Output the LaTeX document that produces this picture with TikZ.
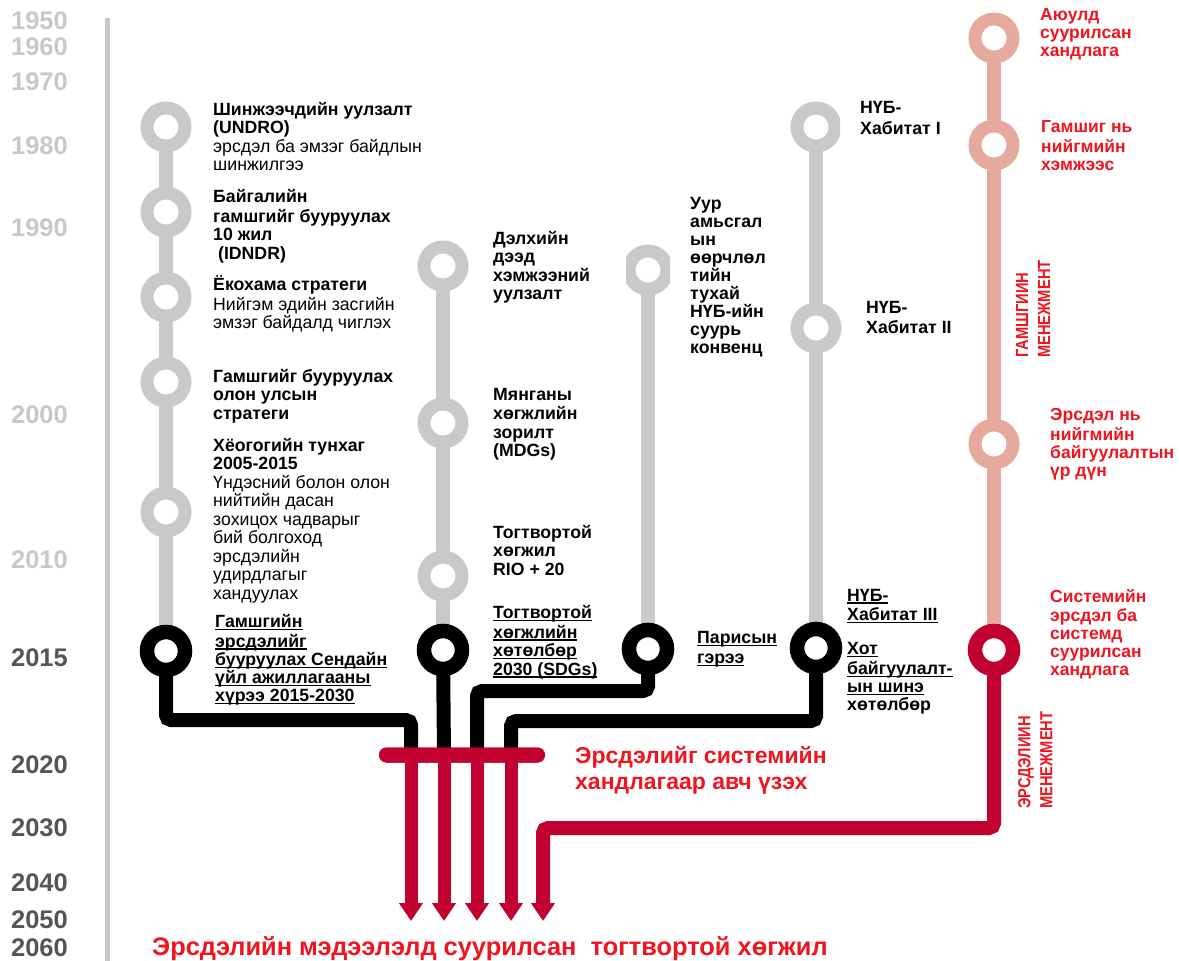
\documentclass[tikz,border=0pt]{standalone}
\usepackage{fontspec}
\setmainfont{Liberation Sans}
\usetikzlibrary{arrows.meta}
\definecolor{ringgray}{HTML}{C8C9CB}
\definecolor{pinkc}{HTML}{E5A99E}
\definecolor{crim}{HTML}{C10230}
\definecolor{redt}{HTML}{F0141E}
\definecolor{yearl}{HTML}{C8C8C8}
\definecolor{yeard}{HTML}{555555}
\newcommand\myul[1]{\setbox0\hbox{#1}\rlap{\rule[-2.6pt]{\wd0}{1.3pt}}\box0}
\newcommand\nar[1]{\scalebox{0.84}[1]{#1}}
\pgfdeclarelayer{back}
\pgfdeclarelayer{bg}
\pgfsetlayers{back,bg,main}
\begin{document}
\begin{tikzpicture}[x=1pt,y=-1pt,
  ring/.style={circle, draw=ringgray, fill=white, line width=13pt, minimum size=38pt, inner sep=0pt},
  ringk/.style={ring, draw=black, line width=14.5pt},
  ringp/.style={ring, draw=pinkc},
  ringc/.style={ring, draw=crim, line width=14.5pt},
  gstem/.style={draw=ringgray, line width=14pt},
  pstem/.style={draw=pinkc, line width=14pt},
  kpipe/.style={draw=black, line width=14pt, rounded corners=5pt},
  tip/.style={-{Triangle[width=23pt,length=18pt]}},
  rpipe/.style={draw=crim, line width=14pt, rounded corners=5pt, tip},
  rarrow/.style={draw=crim, line width=13pt, tip},
  lab/.style={anchor=north west, inner sep=0pt, align=left, font=\fontsize{17.7}{18.5}\selectfont},
  blab/.style={lab, font=\fontsize{17.7}{18.5}\selectfont\bfseries},
  rlab/.style={lab, text=redt, font=\fontsize{17.5}{18}\selectfont\bfseries},
  year/.style={anchor=base east, inner sep=0pt, font=\fontsize{25.5}{26}\selectfont\bfseries},
  vlab/.style={rotate=90, anchor=north west, inner sep=0pt, align=left, text=redt, font=\fontsize{17.5}{22}\selectfont\bfseries},
  barshape/.style={rectangle, fill=crim, minimum width=166pt, minimum height=15pt, rounded corners=7.5pt, inner sep=0pt}
]
\begin{pgfonlayer}{back}
\fill[white] (0,0) rectangle (1179,961);
\end{pgfonlayer}
\useasboundingbox (0,0) rectangle (1179,961);

% time axis
\coordinate (axtop) at (107,18);
\coordinate (axbot) at (107,961);
\draw[ringgray, line width=5pt] (axtop) -- (axbot);

% years
\node[year, text=yearl] (y1950) at (68,30) {1950};
\node[year, text=yearl] (y1960) at (68,56) {1960};
\node[year, text=yearl] (y1970) at (68,90) {1970};
\node[year, text=yearl] (y1980) at (68,154) {1980};
\node[year, text=yearl] (y1990) at (68,236) {1990};
\node[year, text=yearl] (y2000) at (68,423) {2000};
\node[year, text=yearl] (y2010) at (68,568) {2010};
\node[year, text=yeard] (y2015) at (68,666) {2015};
\node[year, text=yeard] (y2020) at (68,773) {2020};
\node[year, text=yeard] (y2030) at (68,836) {2030};
\node[year, text=yeard] (y2040) at (68,891) {2040};
\node[year, text=yeard] (y2050) at (68,928) {2050};
\node[year, text=yeard] (y2060) at (68,956) {2060};

% column 1
\node[ring] (c1a) at (166,127) {};
\node[ring] (c1b) at (166,212) {};
\node[ring] (c1c) at (166,297) {};
\node[ring] (c1d) at (166,382) {};
\node[ring] (c1e) at (166,512) {};
\node[ringk] (c1k) at (166,651) {};
% column 2
\node[ring] (c2a) at (443,266) {};
\node[ring] (c2b) at (443,423) {};
\node[ring] (c2c) at (443,576) {};
\node[ringk] (c2k) at (443,650) {};
% column 3
\begin{scope}
\clip (626,240) rectangle (670,300);
\node[ring] (c3a) at (648,270) {};
\end{scope}
\node[ringk] (c3k) at (648,649) {};
% column 4
\begin{scope}
\clip (780,95) rectangle (840,160);
\node[ring] (c4a) at (816,127) {};
\end{scope}
\node[ring] (c4b) at (816,328) {};
\node[ringk] (c4k) at (816,648) {};
% column 5
\node[ringp] (c5a) at (994,38) {};
\node[ringp] (c5b) at (994,145) {};
\node[ringp] (c5c) at (994,444) {};
\node[ringc] (c5k) at (994,650) {};

% bar and pipe end points
\node[barshape] (bar) at (462,755) {};
\coordinate (b1) at (411,755);
\coordinate (b2) at (444,755);
\coordinate (b3) at (477,755);
\coordinate (b4) at (511,755);
\coordinate (j1) at (411,720);
\coordinate (j3) at (477,691);
\coordinate (j4) at (511,721);
\coordinate (j5) at (543,828);
\coordinate (e1) at (411,921);
\coordinate (e2) at (444,921);
\coordinate (e3) at (477,921);
\coordinate (e4) at (511,921);
\coordinate (e5) at (543,921);

\begin{pgfonlayer}{bg}
\draw[gstem] (c1a.center) -- (c1k.center);
\draw[gstem] (c2a.center) -- (c2k.center);
\draw[gstem] (c3a.center) -- (c3k.center);
\draw[gstem] (c4a.center) -- (c4k.center);
\draw[pstem] (c5a.center) -- (c5k.center);
\draw[kpipe] (c1k.center) |- (j1) -- (b1);
\draw[kpipe] (c2k.center) -- (b2);
\draw[kpipe] (c3k.center) |- (j3) -- (b3);
\draw[kpipe] (c4k.center) |- (j4) -- (b4);
\draw[rpipe] (c5k.center) |- (j5) -- (e5);
\end{pgfonlayer}

\draw[rarrow] (b1) -- (e1);
\draw[rarrow] (b2) -- (e2);
\draw[rarrow] (b3) -- (e3);
\draw[rarrow] (b4) -- (e4);
\node[barshape] at (bar) {};

% column 1 labels
\node[lab] (t1a) at (213,102) {\strut\textbf{Шинжээчдийн уулзалт}\\\textbf{(UNDRO)}\\эрсдэл ба эмзэг байдлын\\шинжилгээ};
\node[lab] (t1b) at (213,189) {\strut\textbf{Байгалийн}\\\textbf{гамшгийг бууруулах}\\\textbf{10 жил}\\\textbf{\ (IDNDR)}};
\node[lab] (t1c) at (213,275) {\strut\textbf{Ёкохама стратеги}\\Нийгэм эдийн засгийн\\эмзэг байдалд чиглэх};
\node[lab] (t1d) at (213,369) {\strut\textbf{Гамшгийг бууруулах}\\\textbf{олон улсын}\\\textbf{стратеги}};
\node[lab] (t1e) at (213,438) {\strut\textbf{Хёогогийн тунхаг}\\\textbf{2005-2015}\\Үндэсний болон олон\\нийтийн дасан\\зохицох чадварыг\\бий болгоход\\эрсдэлийн\\удирдлагыг\\хандуулах};
\node[blab, font=\fontsize{17.7}{18.2}\selectfont\bfseries] (t1k) at (215,614) {\strut\myul{Гамшгийн}\\\myul{эрсдэлийг}\\\myul{бууруулах Сендайн}\\\myul{үйл ажиллагааны}\\\myul{хүрээ 2015-2030}};

% column 2 labels
\node[blab] (t2a) at (493,231) {\strut Дэлхийн\\дээд\\хэмжээний\\уулзалт};
\node[blab] (t2b) at (493,387) {\strut Мянганы\\хөгжлийн\\зорилт\\(MDGs)};
\node[blab] (t2c) at (493,525) {\strut Тогтвортой\\хөгжил\\RIO + 20};
\node[blab] (t2k) at (493,605) {\strut\myul{Тогтвортой}\\\myul{хөгжлийн}\\\myul{хөтөлбөр}\\\myul{2030 (SDGs)}};

% column 3 labels
\node[blab, font=\fontsize{17.7}{18}\selectfont\bfseries] (t3a) at (690,197) {\strut Уур\\амьсгал\\ын\\өөрчлөл\\тийн\\тухай\\НҮБ-ийн\\суурь\\конвенц};
\node[blab, font=\fontsize{17.7}{19.5}\selectfont\bfseries] (t3k) at (697,630) {\strut\myul{Парисын}\\\myul{гэрээ}};

% column 4 labels
\node[blab, font=\fontsize{17.7}{20.5}\selectfont\bfseries] (t4a) at (860,99) {\strut НҮБ-\\Хабитат I};
\node[blab, font=\fontsize{17.7}{20}\selectfont\bfseries] (t4b) at (866,299) {\strut НҮБ-\\Хабитат II};
\node[blab] (t4c) at (847,588) {\strut\myul{НҮБ-}\\\myul{Хабитат III}};
\node[blab, font=\fontsize{17.7}{18}\selectfont\bfseries] (t4k) at (847,642) {\strut\myul{Хот}\\\myul{байгуулалт-}\\\myul{ын шинэ}\\хөтөлбөр};

% column 5 labels
\node[rlab] (t5a) at (1040,8) {\strut Аюулд\\суурилсан\\хандлага};
\node[rlab] (t5b) at (1041,120) {\strut Гамшиг нь\\нийгмийн\\хэмжээс};
\node[rlab] (t5c) at (1050,408) {\strut Эрсдэл нь\\нийгмийн\\байгуулалтын\\үр дүн};
\node[rlab] (t5k) at (1050,589) {\strut Системийн\\эрсдэл ба\\системд\\суурилсан\\хандлага};

% vertical labels
\node[vlab] (vg) at (1016,358) {\nar{ГАМШГИИН}\\\nar{МЕНЕЖМЕНТ}};
\node[vlab] (ve) at (1018,809) {\nar{ЭРСДЭЛИИН}\\\nar{МЕНЕЖМЕНТ}};

% big red texts
\node[anchor=north west, inner sep=0pt, align=left, text=redt, font=\fontsize{23}{26}\selectfont\bfseries] (tbar) at (575,745) {\strut Эрсдэлийг системийн\\хандлагаар авч үзэх};
\node[anchor=base west, inner sep=0pt, text=redt, font=\fontsize{25.4}{28}\selectfont\bfseries] (tbot) at (152,955) {Эрсдэлийн мэдээлэлд суурилсан\ \ тогтвортой хөгжил};
\end{tikzpicture}
\end{document}
